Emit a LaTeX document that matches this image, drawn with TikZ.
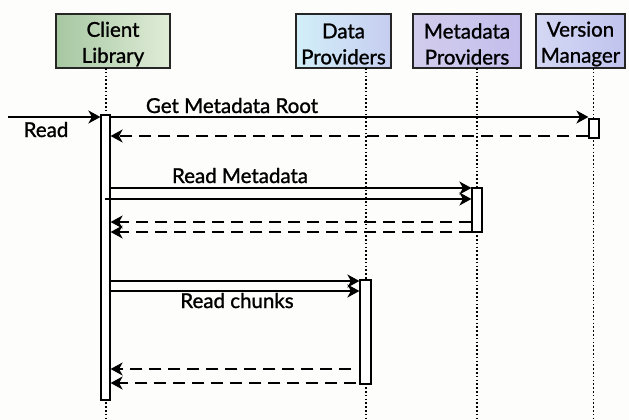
\documentclass[tikz,border=0pt]{standalone}
\usepackage{fontspec}
\setmainfont{Lato}[BoldFont=Lato, BoldFeatures={FakeBold=1.2}]
\usetikzlibrary{arrows.meta,calc}
\definecolor{bg}{HTML}{FDFDFB}
\definecolor{clL}{HTML}{A6C7A1}
\definecolor{clR}{HTML}{E0EDD8}
\definecolor{dpL}{HTML}{D2EFF8}
\definecolor{dpR}{HTML}{C6CDF0}
\definecolor{mpL}{HTML}{D2CDEC}
\definecolor{mpR}{HTML}{C3BEEC}
\definecolor{vmL}{HTML}{D4D8F4}
\definecolor{vmR}{HTML}{C0C4EE}
\begin{document}
\begin{tikzpicture}[x=1pt,y=-1pt,
  hdr/.style={draw=black!85, line width=1.2pt, inner sep=0pt, minimum height=54pt},
  htext/.style={font=\fontsize{20.5}{26}\selectfont\bfseries, align=center, inner sep=0pt},
  life/.style={line width=1.6pt, dash pattern=on 1.6pt off 2.2pt},
  actbar/.style={draw, fill=white, line width=1.2pt, inner sep=0pt},
  msg/.style={line width=1.8pt, -{Stealth[length=12pt,width=13pt,inset=3.5pt]}},
  ret/.style={msg, dash pattern=on 12pt off 7pt},
  lbl/.style={font=\fontsize{20.5}{22}\selectfont\bfseries, anchor=base, inner sep=0pt}]
\useasboundingbox (0,0) rectangle (629,420);
\fill[bg] (0,0) rectangle (629,420);

% headers
\node[hdr, minimum width=114pt, left color=clL, right color=clR] (cl) at (113,41) {};
\node[htext] (clt) at ([yshift=-3pt]cl.center) {Client\\Library};
\node[hdr, minimum width=95pt, left color=dpL, right color=dpR] (dp) at (343.5,41) {};
\node[htext] (dpt) at ([yshift=-3pt]dp.center) {Data\\Providers};
\node[hdr, minimum width=108pt, left color=mpL, right color=mpR] (mp) at (467,41) {};
\node[htext] (mpt) at ([yshift=-3pt]mp.center) {Metadata\\Providers};
\node[hdr, minimum width=89pt, left color=vmL, right color=vmR] (vm) at (580.5,41) {};
\node[htext] (vmt) at ([yshift=-3pt]vm.center) {Version\\Manager};

% lifelines
\coordinate (bot) at (0,420);
\coordinate (clx) at (106,68);
\coordinate (dpx) at (366,68);
\coordinate (mpx) at (477,68);
\coordinate (vmx) at (593.5,68);
\draw[life] (clx) -- (clx |- bot);
\draw[life] (dpx) -- (dpx |- bot);
\draw[life] (mpx) -- (mpx |- bot);
\draw[life] (vmx) -- (vmx |- bot);

% activation bars
\node[actbar, minimum width=9pt, minimum height=285pt] (cbar) at (105.5,257.5) {};
\node[actbar, minimum width=10pt, minimum height=19pt] (vbar) at (594,128.5) {};
\node[actbar, minimum width=10pt, minimum height=44pt] (mbar) at (477,210) {};
\node[actbar, minimum width=11pt, minimum height=104pt] (dbar) at (365.5,332) {};

% message levels
\coordinate (ext) at (8,117);
\coordinate (y1) at (0,117);
\coordinate (y2) at (0,136);
\coordinate (y3) at (0,188);
\coordinate (y4) at (0,199);
\coordinate (y5) at (0,222);
\coordinate (y6) at (0,232);
\coordinate (y7) at (0,281);
\coordinate (y8) at (0,291);
\coordinate (y9) at (0,369);
\coordinate (y10) at (0,383);

\draw[msg] (ext) -- (cbar.west |- ext);
\draw[msg] (cbar.east |- y1) -- (vbar.west |- y1);
\draw[ret] (vbar.west |- y2) -- (cbar.east |- y2);
\draw[msg] (cbar.east |- y3) -- (mbar.west |- y3);
\draw[msg] ($(cbar.east |- y4)+(-6,0)$) -- (mbar.west |- y4);
\draw[ret] (mbar.west |- y5) -- (cbar.east |- y5);
\draw[ret] (mbar.west |- y6) -- (cbar.east |- y6);
\draw[msg] (cbar.east |- y7) -- (dbar.west |- y7);
\draw[msg] (cbar.east |- y8) -- (dbar.west |- y8);
\draw[ret] ($(dbar.west |- y9)+(-8,0)$) -- (cbar.east |- y9);
\draw[ret] ($(dbar.west |- y10)+(-3,0)$) -- (cbar.east |- y10);

% labels
\node[lbl] (lread) at (46,137) {Read};
\node[lbl] (lroot) at (232,113) {Get Metadata Root};
\node[lbl] (lmeta) at (240,183) {Read Metadata};
\node[lbl] (lchunk) at (237,308) {Read chunks};
\end{tikzpicture}
\end{document}
